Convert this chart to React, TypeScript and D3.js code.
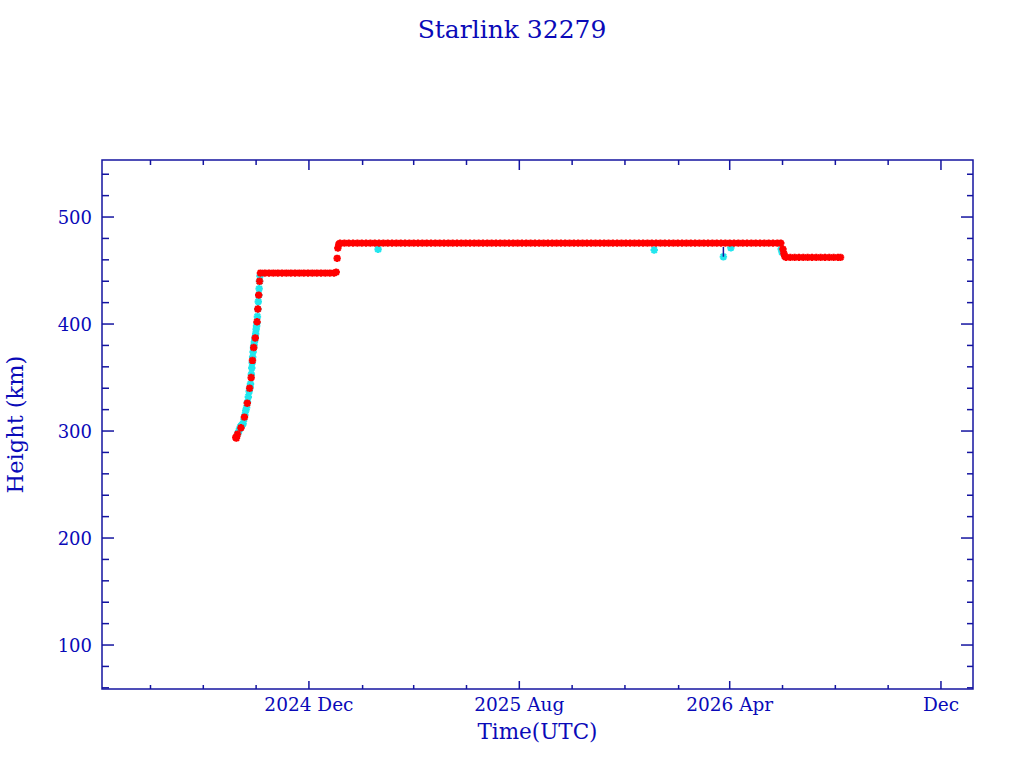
import * as d3 from "d3";

const TITLE = "Starlink 32279";
const X_LABEL = "Time(UTC)";
const Y_LABEL = "Height (km)";

// observations: [days since 2024-09-01 UTC, height km]
const EPOCH = "2024-09-01";

const redObs: [number, number][] = [
  [6.5, 294], [7.3, 293.5], [8.5, 297], [12.5, 303], [16.5, 313], [19.8, 326],
  [22.5, 340], [24.3, 350], [25.8, 366], [27.2, 378], [29, 387], [31.1, 402.1],
  [32, 414], [33, 427], [34, 440],
  [35, 447.6], [40, 447.6], [45, 447.6], [50, 447.6], [55, 447.6], [60, 447.6], [65, 447.6],
  [70, 447.6], [75, 447.6], [80, 447.6], [85, 447.6], [90, 447.6], [95, 447.6], [100, 447.6],
  [105, 447.6], [110, 447.6], [115, 447.6], [120, 447.6], [122.5, 448.5],
  [123.6, 461.4], [124.4, 471], [125.5, 474.5],
  [127, 475.6], [132, 475.6], [137, 475.6], [142, 475.6], [147, 475.6], [152, 475.6],
  [157, 475.6], [162, 475.6], [167, 475.6], [172, 475.6], [177, 475.6], [182, 475.6],
  [187, 475.6], [192, 475.6], [197, 475.6], [202, 475.6], [207, 475.6], [212, 475.6],
  [217, 475.6], [222, 475.6], [227, 475.6], [232, 475.6], [237, 475.6], [242, 475.6],
  [247, 475.6], [252, 475.6], [257, 475.6], [262, 475.6], [267, 475.6], [272, 475.6],
  [277, 475.6], [282, 475.6], [287, 475.6], [292, 475.6], [297, 475.6], [302, 475.6],
  [307, 475.6], [312, 475.6], [317, 475.6], [322, 475.6], [327, 475.6], [332, 475.6],
  [337, 475.6], [342, 475.6], [347, 475.6], [352, 475.6], [357, 475.6], [362, 475.6],
  [367, 475.6], [372, 475.6], [377, 475.6], [382, 475.6], [387, 475.6], [392, 475.6],
  [397, 475.6], [402, 475.6], [407, 475.6], [412, 475.6], [417, 475.6], [422, 475.6],
  [427, 475.6], [432, 475.6], [437, 475.6], [442, 475.6], [447, 475.6], [452, 475.6],
  [457, 475.6], [462, 475.6], [467, 475.6], [472, 475.6], [477, 475.6], [482, 475.6],
  [487, 475.6], [492, 475.6], [497, 475.6], [502, 475.6], [507, 475.6], [512, 475.6],
  [517, 475.6], [522, 475.6], [527, 475.6], [532, 475.6], [537, 475.6], [542, 475.6],
  [547, 475.6], [552, 475.6], [557, 475.6], [562, 475.6], [567, 475.6], [572, 475.6],
  [577, 475.6], [582, 475.6], [587, 475.6], [592, 475.6], [597, 475.6], [602, 475.6],
  [607, 475.6], [612, 475.6], [617, 475.6], [622, 475.6], [627, 475.6], [632, 475.6],
  [636, 475.6],
  [638.5, 470], [639.5, 466], [640.5, 463.5],
  [642, 462.3], [647, 462.3], [652, 462.3], [657, 462.3], [662, 462.3], [667, 462.3],
  [672, 462.3], [677, 462.3], [682, 462.3], [687, 462.3], [692, 462.3], [697, 462.3],
  [702, 462.3], [705, 462.3],
];

const cyanObs: [number, number][] = [
  [9, 298], [10, 300], [11, 302], [12, 304], [13, 305], [14, 306], [15, 307], [16, 311],
  [17, 315], [18, 319], [19, 322], [20, 327], [21, 332], [22, 337], [23, 341], [23.5, 344],
  [24.5, 353], [25, 359], [25.5, 364], [26, 369], [26.5, 374], [27, 378], [27.5, 380],
  [28, 383], [28.5, 385], [29, 388], [29.5, 391], [30, 395], [30.5, 398], [31, 401],
  [31.5, 407], [32, 414], [32.5, 421], [33, 427], [33.5, 433], [34, 440], [34.5, 445],
  [170.9, 469.8], [489.8, 469.2], [569.7, 462.9], [578.3, 471.3], [636.5, 470], [637.5, 467],
];

// vertical error segment: [day, from km, to km]
const errBars: [number, number, number][] = [[569.7, 462.9, 472]];

const X_DOMAIN = ["2024-04-06", "2027-01-07"];
const Y_DOMAIN = [58.9, 553.3];
const X_MAJOR = ["2024-12-01", "2025-08-01", "2026-04-01", "2026-12-01"];
const X_MAJOR_LABELS = ["2024 Dec", "2025 Aug", "2026 Apr", "Dec"];
const X_MINOR = [
  "2024-06-01", "2024-08-01", "2024-10-01", "2025-02-01", "2025-04-01", "2025-06-01",
  "2025-10-01", "2025-12-01", "2026-02-01", "2026-06-01", "2026-08-01", "2026-10-01",
];
const Y_MAJOR = [100, 200, 300, 400, 500];

const W = 1024;
const H = 768;
const PLOT = { left: 102, right: 973, top: 160, bottom: 689 };
const AXIS = "#1414a0";
const TEXT = "#0a0ab8";
const FONT = "DejaVu Serif";

const parse = (s: string) => new Date(s + "T00:00:00Z");
const epoch = parse(EPOCH);
const dayToDate = (d: number) => new Date(epoch.getTime() + d * 864e5);

const STAR = "M-3.7,0H3.7M0,-3.7V3.7M-2.7,-2.7L2.7,2.7M-2.7,2.7L2.7,-2.7";

const App = () => {
  const x = d3.scaleUtc().domain(X_DOMAIN.map(parse)).range([PLOT.left, PLOT.right]);
  const y = d3.scaleLinear().domain(Y_DOMAIN).range([PLOT.bottom, PLOT.top]);

  const yMinor = d3.range(60, 560, 20).filter((v) => v % 100 !== 0);

  const stars = (obs: [number, number][], color: string, sw: number) =>
    obs.map(([d, h], i) => (
      <path
        key={i}
        d={STAR}
        transform={`translate(${x(dayToDate(d))},${y(h)})`}
        stroke={color}
        strokeWidth={sw}
        fill="none"
      />
    ));

  return (
    <svg width={W} height={H} style={{ position: "absolute", left: 0, top: 0 }}>
      <rect width={W} height={H} fill="#fff" />
      <text x={512} y={38} textAnchor="middle" fontFamily={FONT} fontSize={25} fill={TEXT}>
        {TITLE}
      </text>

      {stars(cyanObs, "#22e6ee", 2.2)}
      {stars(redObs, "#ff0000", 2.2)}
      {errBars.map(([d, a, b], i) => (
        <line key={i} x1={x(dayToDate(d))} x2={x(dayToDate(d))} y1={y(a)} y2={y(b)} stroke={AXIS} strokeWidth={1.5} />
      ))}

      <rect
        x={PLOT.left}
        y={PLOT.top}
        width={PLOT.right - PLOT.left}
        height={PLOT.bottom - PLOT.top}
        fill="none"
        stroke={AXIS}
        strokeWidth={1.5}
      />

      {/* y ticks */}
      {Y_MAJOR.map((v) => (
        <g key={v}>
          <line x1={PLOT.left} x2={PLOT.left + 12} y1={y(v)} y2={y(v)} stroke={AXIS} strokeWidth={1.5} />
          <line x1={PLOT.right} x2={PLOT.right - 12} y1={y(v)} y2={y(v)} stroke={AXIS} strokeWidth={1.5} />
          <text x={92} y={y(v)} dy="0.36em" textAnchor="end" fontFamily={FONT} fontSize={18} fill={TEXT}>
            {v}
          </text>
        </g>
      ))}
      {yMinor.map((v) => (
        <g key={v}>
          <line x1={PLOT.left} x2={PLOT.left + 7} y1={y(v)} y2={y(v)} stroke={AXIS} strokeWidth={1.5} />
          <line x1={PLOT.right} x2={PLOT.right - 6} y1={y(v)} y2={y(v)} stroke={AXIS} strokeWidth={1.5} />
        </g>
      ))}

      {/* x ticks */}
      {X_MAJOR.map((s, i) => {
        const px = x(parse(s));
        return (
          <g key={s}>
            <line x1={px} x2={px} y1={PLOT.bottom} y2={PLOT.bottom - 8} stroke={AXIS} strokeWidth={1.5} />
            <line x1={px} x2={px} y1={PLOT.top} y2={PLOT.top + 10} stroke={AXIS} strokeWidth={1.5} />
            <text x={px} y={711} textAnchor="middle" fontFamily={FONT} fontSize={18.5} fill={TEXT}>
              {X_MAJOR_LABELS[i]}
            </text>
          </g>
        );
      })}
      {X_MINOR.map((s) => {
        const px = x(parse(s));
        return (
          <g key={s}>
            <line x1={px} x2={px} y1={PLOT.bottom} y2={PLOT.bottom - 4} stroke={AXIS} strokeWidth={1.5} />
            <line x1={px} x2={px} y1={PLOT.top} y2={PLOT.top + 5} stroke={AXIS} strokeWidth={1.5} />
          </g>
        );
      })}

      <text x={537.5} y={739} textAnchor="middle" fontFamily={FONT} fontSize={21.5} fill={TEXT}>
        {X_LABEL}
      </text>
      <text
        transform={`translate(23,424.5) rotate(-90)`}
        textAnchor="middle"
        fontFamily={FONT}
        fontSize={22.5}
        fill={TEXT}
      >
        {Y_LABEL}
      </text>
    </svg>
  );
};

export default App;
